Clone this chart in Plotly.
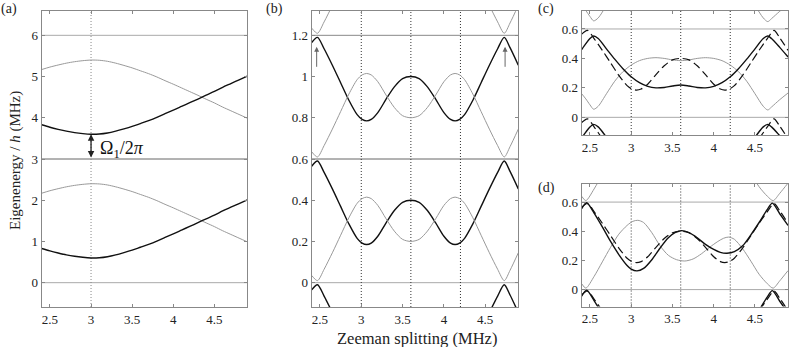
import plotly.graph_objects as go

# ---- data ----
# (a) dressed levels, lower pair (repeated every 3 MHz)
xa = [2.40, 2.50, 2.60, 2.70, 2.80, 2.90, 3.00, 3.10, 3.20, 3.30, 3.40, 3.50, 3.60,
      3.70, 3.80, 3.90, 4.00, 4.10, 4.20, 4.30, 4.40, 4.50, 4.60, 4.70, 4.80, 4.90]
a_black = [0.83, 0.77, 0.72, 0.675, 0.64, 0.615, 0.60, 0.605, 0.63, 0.675, 0.73, 0.79, 0.86,
           0.93, 1.01, 1.10, 1.185, 1.275, 1.365, 1.455, 1.55, 1.64, 1.74, 1.83, 1.92, 2.01]
a_gray = [2.17, 2.23, 2.28, 2.325, 2.36, 2.385, 2.40, 2.395, 2.37, 2.325, 2.27, 2.21, 2.14,
          2.07, 1.99, 1.90, 1.815, 1.725, 1.635, 1.545, 1.45, 1.36, 1.26, 1.17, 1.08, 0.99]
a_levels = [0, 3, 6]
a_level_colors = ['#aaaaaa', '#666666', '#aaaaaa']
a_spacing = 3

# (b) quasi-energies, one zone (repeated every 0.6 MHz); also dashed curve in (c), (d)
xb = [2.40, 2.47, 2.55, 2.65, 2.75, 2.85, 2.95, 3.01, 3.065, 3.12, 3.20, 3.30, 3.40, 3.50,
      3.60, 3.70, 3.80, 3.90, 4.00, 4.08, 4.135, 4.19, 4.25, 4.35, 4.45, 4.55, 4.65,
      4.73, 4.80, 4.90]
b_black = [0.565, 0.59, 0.535, 0.455, 0.37, 0.285, 0.215, 0.192, 0.185, 0.192, 0.225, 0.29,
           0.35, 0.39, 0.40, 0.39, 0.35, 0.29, 0.225, 0.192, 0.185, 0.192, 0.215, 0.285,
           0.37, 0.455, 0.535, 0.59, 0.54, 0.455]
b_gray = [0.035, 0.01, 0.065, 0.145, 0.23, 0.315, 0.385, 0.408, 0.415, 0.408, 0.375, 0.31,
          0.25, 0.21, 0.20, 0.21, 0.25, 0.31, 0.375, 0.408, 0.415, 0.408, 0.385, 0.315,
          0.23, 0.145, 0.065, 0.01, 0.06, 0.145]
zone = 0.6
zone_levels = [0, 0.6, 1.2]
zone_level_colors = ['#aaaaaa', '#666666', '#888888']
b_arrows_x = [2.46, 4.74]

# (c)
xc = [2.40, 2.45, 2.50, 2.545, 2.60, 2.70, 2.80, 2.90, 3.00, 3.10, 3.20, 3.30, 3.40, 3.50,
      3.60, 3.70, 3.80, 3.90, 4.00, 4.10, 4.20, 4.30, 4.40, 4.50, 4.60, 4.655, 4.70,
      4.80, 4.90]
c_black = [0.46, 0.50, 0.535, 0.552, 0.535, 0.465, 0.395, 0.33, 0.275, 0.235, 0.21, 0.20,
           0.203, 0.213, 0.22, 0.213, 0.203, 0.20, 0.21, 0.235, 0.275, 0.33, 0.395, 0.465,
           0.535, 0.552, 0.535, 0.475, 0.41]
c_gray = [0.16, 0.125, 0.085, 0.055, 0.075, 0.16, 0.245, 0.31, 0.355, 0.385, 0.40, 0.405,
          0.40, 0.39, 0.385, 0.39, 0.40, 0.405, 0.40, 0.385, 0.355, 0.31, 0.245, 0.16,
          0.075, 0.05, 0.07, 0.12, 0.165]

# (d)
xd = [2.40, 2.46, 2.55, 2.65, 2.75, 2.85, 2.95, 3.00, 3.07, 3.15, 3.25, 3.35, 3.45, 3.53,
      3.61, 3.70, 3.80, 3.90, 4.00, 4.08, 4.16, 4.25, 4.35, 4.45, 4.55, 4.65, 4.71, 4.80, 4.90]
d_black = [0.555, 0.595, 0.525, 0.43, 0.33, 0.24, 0.165, 0.14, 0.128, 0.145, 0.205, 0.285,
           0.355, 0.39, 0.404, 0.39, 0.355, 0.31, 0.275, 0.255, 0.249, 0.26, 0.30, 0.375,
           0.46, 0.55, 0.593, 0.52, 0.44]
xdg = [2.40, 2.45, 2.55, 2.65, 2.75, 2.85, 2.95, 3.02, 3.08, 3.15, 3.25, 3.35, 3.45, 3.55,
       3.65, 3.75, 3.85, 3.95, 4.05, 4.12, 4.18, 4.25, 4.35, 4.45, 4.55, 4.65, 4.72, 4.80, 4.90]
d_gray = [0.04, 0.01, 0.09, 0.19, 0.29, 0.38, 0.44, 0.468, 0.475, 0.46, 0.39, 0.30, 0.235,
          0.205, 0.196, 0.21, 0.245, 0.29, 0.33, 0.352, 0.36, 0.345, 0.28, 0.195, 0.105,
          0.04, 0.01, 0.06, 0.13]

dotted_x = [3.0, 3.6, 4.2]

BLACK = '#111111'
GRAY = '#999999'
FONT = "Liberation Serif, DejaVu Serif, serif"

fig = go.Figure()


def curve(x, y, ax, color, width, dash='solid', shift=0.0):
    fig.add_trace(go.Scatter(x=x, y=[v + shift for v in y], mode='lines',
                             line=dict(color=color, width=width, dash=dash,
                                       shape='spline', smoothing=0.8),
                             xaxis='x' + ax, yaxis='y' + ax, showlegend=False,
                             hoverinfo='skip'))


# (a)
for k in [0, 1]:
    curve(xa, a_gray, '', GRAY, 1, shift=k * a_spacing)
    curve(xa, a_black, '', BLACK, 1.4, shift=k * a_spacing)

# (b)
for k in [-1, 0, 1]:
    curve(xb, b_black, '2', BLACK, 1.4, shift=k * zone)
for k in [0, 1, 2]:
    curve(xb, b_gray, '2', GRAY, 1, shift=k * zone)

# (c)
for k in [0, 1]:
    curve(xc, c_gray, '3', GRAY, 1, shift=k * zone)
for k in [-1, 0]:
    curve(xb, b_black, '3', BLACK, 1.2, dash='8px,4px', shift=k * zone)
    curve(xc, c_black, '3', BLACK, 1.4, shift=k * zone)

# (d)
for k in [0, 1]:
    curve(xdg, d_gray, '4', GRAY, 1, shift=k * zone)
for k in [-1, 0]:
    curve(xb, b_black, '4', BLACK, 1.2, dash='8px,4px', shift=k * zone)
    curve(xd, d_black, '4', BLACK, 1.4, shift=k * zone)

shapes = []
for lv, col in zip(a_levels, a_level_colors):
    shapes.append(dict(type='line', xref='x domain', yref='y', x0=0, x1=1, y0=lv, y1=lv,
                       line=dict(color=col, width=1), layer='below'))
shapes.append(dict(type='line', xref='x', yref='y domain', x0=3.0, x1=3.0, y0=0, y1=1,
                   line=dict(color='#888888', width=1, dash='1px,2px'), layer='below'))
for ax, levels, cols in [('2', zone_levels, zone_level_colors),
                         ('3', zone_levels[:2], ['#aaaaaa', '#aaaaaa']),
                         ('4', zone_levels[:2], ['#aaaaaa', '#aaaaaa'])]:
    for lv, col in zip(levels, cols):
        shapes.append(dict(type='line', xref='x%s domain' % ax, yref='y' + ax, x0=0, x1=1,
                           y0=lv, y1=lv, line=dict(color=col, width=1), layer='below'))
    for xv in dotted_x:
        shapes.append(dict(type='line', xref='x' + ax, yref='y%s domain' % ax, x0=xv, x1=xv,
                           y0=0, y1=1, line=dict(color='#333333', width=1, dash='1px,2px'),
                           layer='below'))

W, H = 789, 347
dom = {
    '': ((41.7, 247.3), (11, 307)),
    '2': ((311.7, 518.3), (11, 307)),
    '3': ((581.7, 788), (11, 135)),
    '4': ((581.7, 788), (184, 306.5)),
}
yranges = {'': [-0.59, 6.59], '2': [-0.118, 1.318], '3': [-0.12, 0.722], '4': [-0.116, 0.724]}
yticks = {
    '': ([0, 1, 2, 3, 4, 5, 6], ['0', '1', '2', '3', '4', '5', '6']),
    '2': ([0, 0.2, 0.4, 0.6, 0.8, 1.0, 1.2], ['0', '0.2', '0.4', '0.6', '0.8', '1', '1.2']),
    '3': ([0, 0.2, 0.4, 0.6], ['0', '0.2', '0.4', '0.6']),
    '4': ([0, 0.2, 0.4, 0.6], ['0', '0.2', '0.4', '0.6']),
}
xtickvals = [2.5, 3, 3.5, 4, 4.5]
xticktext = ['2.5', '3', '3.5', '4', '4.5']

axis_style = dict(showline=True, linecolor='#888888', linewidth=1, mirror='allticks',
                  ticks='inside', ticklen=3, tickcolor='#888888', showgrid=False,
                  zeroline=False, tickfont=dict(family=FONT, size=13, color='#222222'))
layout_axes = {}
for ax, ((x0, x1), (yt, yb)) in dom.items():
    layout_axes['xaxis' + ax] = dict(axis_style, domain=[x0 / W, x1 / W], range=[2.4, 4.9],
                                     anchor='y' + ax, tickvals=xtickvals, ticktext=xticktext)
    layout_axes['yaxis' + ax] = dict(axis_style, domain=[(H - yb) / H, (H - yt) / H],
                                     range=yranges[ax], anchor='x' + ax,
                                     tickvals=yticks[ax][0], ticktext=yticks[ax][1])

annotations = []
# panel letters
for txt, px, py in [('(a)', 9, 9), ('(b)', 274, 9), ('(c)', 546, 9), ('(d)', 546, 188)]:
    annotations.append(dict(text=txt, xref='paper', yref='paper', x=px / W, y=1 - py / H,
                            xanchor='center', yanchor='middle', showarrow=False,
                            font=dict(family=FONT, size=14, color='#222222')))
annotations.append(dict(text='Eigenenergy / <i>h</i> (MHz)', xref='paper', yref='paper',
                        x=16 / W, y=1 - 161 / H, xanchor='center', yanchor='middle',
                        textangle=-90, showarrow=False,
                        font=dict(family=FONT, size=15, color='#222222')))
annotations.append(dict(text='Zeeman splitting (MHz)', xref='paper', yref='paper',
                        x=417 / W, y=1 - 338 / H, xanchor='center', yanchor='middle',
                        showarrow=False, font=dict(family=FONT, size=16.5, color='#222222')))
# Rabi splitting in (a)
annotations.append(dict(x=3.0, y=3.6, ax=3.0, ay=3.0, xref='x', yref='y', axref='x', ayref='y',
                        text='', showarrow=True, arrowhead=2, arrowside='end+start',
                        arrowsize=1, arrowwidth=1.3, arrowcolor='#222222'))
annotations.append(dict(x=3.09, y=3.22, xref='x', yref='y', xanchor='left',
                        text='Ω<sub>1</sub>/2<i>π</i>', showarrow=False,
                        font=dict(family=FONT, size=18, color='#111111')))
# arrows in (b)
for xv in b_arrows_x:
    annotations.append(dict(x=xv, y=1.145, ax=xv, ay=1.04, xref='x2', yref='y2', axref='x2',
                            ayref='y2', text='', showarrow=True, arrowhead=2, arrowsize=1,
                            arrowwidth=1, arrowcolor='#666666'))

fig.update_layout(width=W, height=H, margin=dict(l=0, r=0, t=0, b=0),
                  paper_bgcolor='white', plot_bgcolor='white',
                  font=dict(family=FONT, size=13, color='#222222'),
                  shapes=shapes, annotations=annotations, **layout_axes)

# page body has a default 8px margin; drop it so the figure sits at the window corner
fig.write_html("out.html", config={'displayModeBar': False},
               post_script="document.body.style.margin='0';")
